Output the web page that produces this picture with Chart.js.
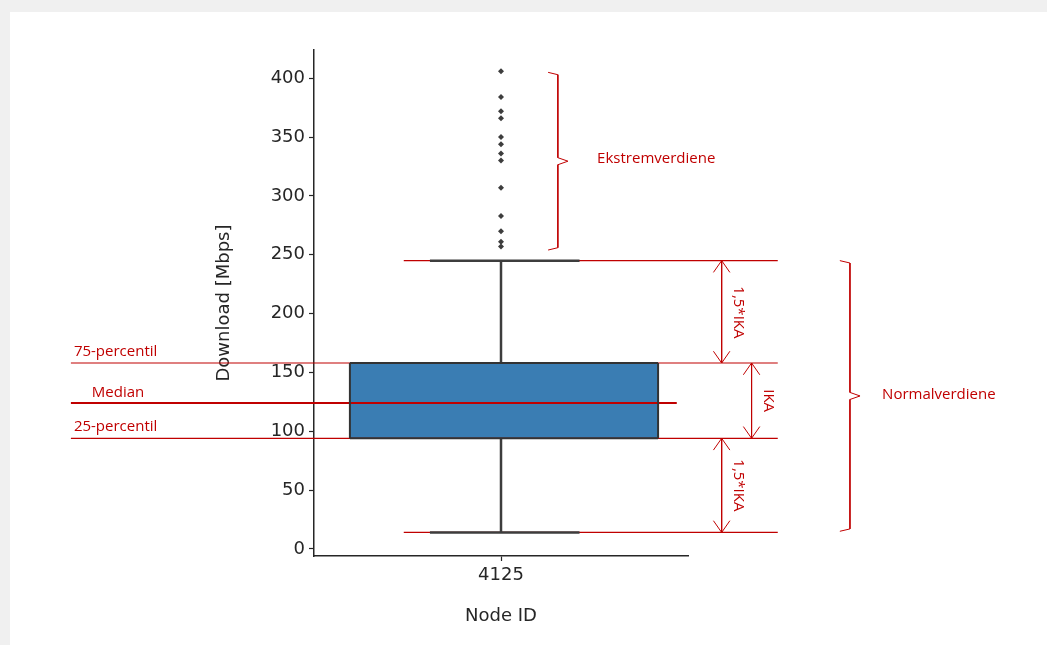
<!DOCTYPE html>
<html>
<head>
<meta charset="utf-8">
<script src="https://cdn.jsdelivr.net/npm/chart.js@4.4.1/dist/chart.umd.min.js"></script>
<style>
  body { margin: 0; background: #f0f0f0; }
  #wrap { position: absolute; left: 10px; top: 12px; width: 1037px; height: 633px; background: #fff; }
</style>
</head>
<body>
<div id="wrap"><canvas id="grafico" width="1037" height="633"></canvas></div>
<script>
// data
const nodeId = '4125';
const kvartiler = { q1: 94, median: 124, q3: 158 };
const whiskerLav = 14;
const whiskerHoy = 245;
const ekstremverdier = [406, 384, 372, 366, 350, 344, 336, 330, 307, 283, 270, 261, 257];
const yTicks = [0, 50, 100, 150, 200, 250, 300, 350, 400];

const rod = '#c00000';
const mork = '#3d3d3d';

// x positions in axis units (box centered at 0)
const boksV = -0.404, boksH = 0.42;
const pilX1 = 0.59, pilX2 = 0.67;

function linje(punkter, farge, bredde, ekstra) {
    return Object.assign({
        type: 'scatter', data: punkter, showLine: true, borderColor: farge,
        borderWidth: bredde, pointRadius: 0, clip: false, fill: false
    }, ekstra || {});
}

function pil(x, yTopp, yBunn) {
    const dx = 0.022, dy = 10;
    return [
        linje([{x: x, y: yTopp}, {x: x, y: yBunn}], rod, 1),
        linje([{x: x - dx, y: yTopp - dy}, {x: x, y: yTopp}], rod, 1),
        linje([{x: x + dx, y: yTopp - dy}, {x: x, y: yTopp}], rod, 1),
        linje([{x: x - dx, y: yBunn + dy}, {x: x, y: yBunn}], rod, 1),
        linje([{x: x + dx, y: yBunn + dy}, {x: x, y: yBunn}], rod, 1)
    ];
}

function krokParentes(x0, x1, xTupp, yTopp, yBunn) {
    const midt = (yTopp + yBunn) / 2;
    return [
        linje([{x: x0, y: yTopp}, {x: x1, y: yTopp - 2}, {x: x1, y: midt + 3}, {x: xTupp, y: midt},
               {x: x1, y: midt - 3}, {x: x1, y: yBunn + 2}, {x: x0, y: yBunn}], rod, 1, {tension: 0})
    ];
}

const datasett = [
    // box fill
    linje([{x: boksV, y: kvartiler.q3}, {x: boksH, y: kvartiler.q3}], '#333', 2, {fill: '+1', backgroundColor: '#3a7db3'}),
    linje([{x: boksV, y: kvartiler.q1}, {x: boksH, y: kvartiler.q1}], '#333', 2),
    linje([{x: boksV, y: kvartiler.q1}, {x: boksV, y: kvartiler.q3}], '#333', 2),
    linje([{x: boksH, y: kvartiler.q1}, {x: boksH, y: kvartiler.q3}], '#333', 2),
    // whiskers and caps
    linje([{x: 0, y: kvartiler.q3}, {x: 0, y: whiskerHoy}], mork, 2.5),
    linje([{x: 0, y: kvartiler.q1}, {x: 0, y: whiskerLav}], mork, 2.5),
    linje([{x: -0.19, y: whiskerHoy}, {x: 0.21, y: whiskerHoy}], mork, 2.5),
    linje([{x: -0.19, y: whiskerLav}, {x: 0.21, y: whiskerLav}], mork, 2.5),
    // outliers
    { type: 'scatter', data: ekstremverdier.map(v => ({x: 0, y: v})), pointStyle: 'rectRot',
      pointRadius: 3, backgroundColor: mork, borderColor: mork, borderWidth: 0, clip: false },
    // red annotation lines
    linje([{x: -0.26, y: whiskerHoy}, {x: 0.74, y: whiskerHoy}], rod, 1.2),
    linje([{x: -1.15, y: kvartiler.q3}, {x: 0.74, y: kvartiler.q3}], rod, 1.2),
    linje([{x: -1.15, y: kvartiler.median}, {x: 0.47, y: kvartiler.median}], rod, 2),
    linje([{x: -1.15, y: kvartiler.q1}, {x: 0.74, y: kvartiler.q1}], rod, 1.2),
    linje([{x: -0.26, y: whiskerLav}, {x: 0.74, y: whiskerLav}], rod, 1.2),
    ...pil(pilX1, whiskerHoy, kvartiler.q3),
    ...pil(pilX2, kvartiler.q3, kvartiler.q1),
    ...pil(pilX1, kvartiler.q1, whiskerLav),
    ...krokParentes(0.126, 0.152, 0.179, 405, 254),
    ...krokParentes(0.906, 0.933, 0.96, 245, 15)
];

const tekster = [
    { t: 'Ekstremverdiene', x: 0.257, y: 332, rot: 0, align: 'left' },
    { t: 'Normalverdiene', x: 1.019, y: 131, rot: 0, align: 'left' },
    { t: '75-percentil', x: -1.142, y: 168, rot: 0, align: 'left' },
    { t: 'Median', x: -1.094, y: 133, rot: 0, align: 'left' },
    { t: '25-percentil', x: -1.142, y: 104, rot: 0, align: 'left' },
    { t: '1,5*IKA', x: 0.635, y: 201, rot: Math.PI / 2, align: 'center' },
    { t: 'IKA', x: 0.715, y: 126, rot: Math.PI / 2, align: 'center' },
    { t: '1,5*IKA', x: 0.635, y: 54, rot: Math.PI / 2, align: 'center' }
];

const tekstPlugin = {
    id: 'tekster',
    afterDatasetsDraw(chart) {
        const ctx = chart.ctx;
        const sx = chart.scales.x, sy = chart.scales.y;
        ctx.save();
        ctx.fillStyle = rod;
        ctx.font = '15px "Open Sans", "Liberation Sans", sans-serif';
        ctx.textBaseline = 'middle';
        tekster.forEach(tk => {
            ctx.save();
            ctx.translate(sx.getPixelForValue(tk.x), sy.getPixelForValue(tk.y));
            ctx.rotate(tk.rot);
            ctx.textAlign = tk.align;
            ctx.fillText(tk.t, 0, 0);
            ctx.restore();
        });
        ctx.restore();
    }
};

const akseFont = { family: 'DejaVu Sans', size: 18 };
const akseGrid = { display: true, drawOnChartArea: false, drawTicks: true, tickLength: 5, tickColor: '#262626', tickWidth: 1.2 };

new Chart(document.getElementById('grafico'), {
    type: 'scatter',
    data: { datasets: datasett },
    options: {
        responsive: false,
        animation: false,
        layout: { padding: { left: 204, right: 359, top: 38, bottom: 14 } },
        plugins: { legend: { display: false }, tooltip: { enabled: false }, filler: { drawTime: 'beforeDatasetsDraw' } },
        scales: {
            x: {
                type: 'linear', min: -0.5, max: 0.5,
                afterBuildTicks: s => { s.ticks = [{ value: 0 }]; },
                afterFit: s => { s.height = 75; },
                ticks: { callback: () => nodeId, color: '#262626', font: akseFont, padding: 4 },
                grid: akseGrid,
                border: { color: '#262626', width: 1.5 },
                title: { display: true, text: 'Node ID', color: '#262626', font: akseFont, padding: { top: 0 } }
            },
            y: {
                min: -6, max: 424,
                afterBuildTicks: s => { s.ticks = yTicks.map(v => ({ value: v })); },
                afterFit: s => { s.width = 100; },
                ticks: { color: '#262626', font: akseFont, padding: 4 },
                grid: akseGrid,
                border: { color: '#262626', width: 1.5 },
                title: { display: true, text: 'Download [Mbps]', color: '#262626', font: akseFont, padding: 0 }
            }
        }
    },
    plugins: [tekstPlugin]
});
</script>
</body>
</html>
